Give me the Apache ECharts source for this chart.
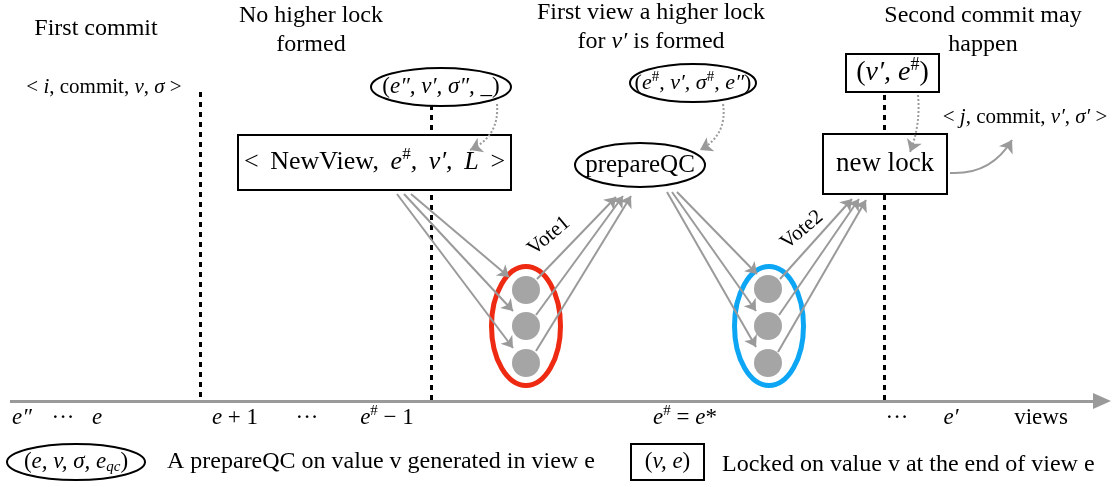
<!DOCTYPE html>
<html><head><meta charset="utf-8">
<script src="https://cdn.jsdelivr.net/npm/echarts/dist/echarts.min.js"></script>
<style>html,body{margin:0;padding:0;background:#fff}#c{width:1119px;height:487px}</style>
</head><body><div id="c"></div>
<script>
const FONT = '"Liberation Serif","Times New Roman",serif';
const T = '\u2009'; // thin space

// ---- content ----
const viewLabels = ['{i|e″}', '{r|···}', '{i|e}', '{i|e}{r| + 1}', '{r|···}', '{i|e}{s|#}{r| − 1}',
                    '{i|e}{s|#}{r| = }{i|e}{r|*}', '{r|···}', '{i|e′}', '{r|views}'];
const viewLabelX = [22, 63, 97, 235, 307, 387, 685, 897, 951, 1041];

const phaseTitles = ['{t|First commit}', '{t|No higher lock}', '{t|formed}', '{t|First view a higher lock}',
                     '{t|for }{ti|v′}{t| is formed}', '{t|Second commit may}', '{t|happen}'];
const phaseTitlePos = [[96,29],[311,16],[311,45],[651,13],[651,42],[983,16],[983,45]];

const commitMsgs = ['{c|< }{ci|i}{c|, commit, }{ci|v}{c|, }{ci|σ}{c| >}',
                    '{c|< }{ci|j}{c|, commit, }{ci|v′}{c|, }{ci|σ′}{c| >}'];
const commitMsgPos = [[104,87],[1025,117]];

const voteLabels = ['{v|Vote1}', '{v|Vote2}'];
const voteLabelPos = [[549,236],[802,230]];

const legendTexts = ['{L|A prepareQC on value v generated in view e}', '{L|Locked on value v at the end of view e}'];
const legendTextPos = [[167,462],[722,465]];

// QC ellipses
const qcLabels = ['{r|(}{i|e″, v′, σ″, _}{r|)}',
                  '{q|(}{qi|e}{qs|#}{qi|, v′, σ}{qs|#}{qi|, e″}{q|)}',
                  '{b1|prepareQC}',
                  '{r|(}{i|e, v, σ, e}{sub|qc}{r|)}'];
const qcPos = [[441,87],[693,83],[640,165],[76,462]];
const qcSize = [[142,40],[128,40],[132,46],[140,38]];

// lock / message boxes
const boxLabels = ['{m|<'+T+' NewView,'+T+' }{mi|e}{ms|#}{mi|,'+T+' v′,'+T+' L'+T+' }{m|>}',
                   '{m2|(}{mi2|v′, e}{ms2|#}{m2|)}',
                   '{b2|new lock}',
                   '{r|(}{i|v, e}{r|)}'];
const boxPos = [[374.5,162.5],[892.5,73],[885,164],[667.5,462]];
const boxSize = [[275,57],[95,40],[126,62],[75,38]];

// view boundaries (dashed)
const boundaryX = [200, 431, 884];
const boundaryTop = [92, 105, 95];
const axisY = 401;

// replicas (voters)
const replicaPos = [[526,290],[526,326],[526,363],[768,289],[768,326],[768,363]];
const groupPos = [[526,326],[769,326]];
const groupSize = [[74,124],[74,124]];
const groupColors = ['#ee2a12', '#0ca6f4'];

// vote message arrows
const voteArrows = [
  [[411,194],[509,277]], [[404,194],[513,311]], [[397,194],[513,348]],
  [[537,279],[616,197]], [[536,315],[623,196]], [[536,351],[631,196]],
  [[677,192],[757,274]], [[672,192],[756,311]], [[667,192],[756,347]],
  [[780,279],[852,199]], [[779,315],[859,199]], [[778,352],[866,200]]
];
const dottedArrows = [[[497,104],[470,150]], [[723,104],[700,150]], [[918,95],[910,152]]];
const dottedCurve = [0.35, 0.35, 0.12];
const commitArrow = [[950,173],[1012,140]];

// ---- styles ----
const RICH = {
  r:{fontFamily:FONT,fontSize:23,color:'#000'},
  i:{fontFamily:FONT,fontSize:23,fontStyle:'italic',color:'#000'},
  s:{fontFamily:FONT,fontSize:15,color:'#000',padding:[0,0,13,0]},
  sub:{fontFamily:FONT,fontSize:15,fontStyle:'italic',color:'#000',padding:[11,0,0,0]},
  q:{fontFamily:FONT,fontSize:22,color:'#000'},
  qi:{fontFamily:FONT,fontSize:22,fontStyle:'italic',color:'#000'},
  qs:{fontFamily:FONT,fontSize:15,color:'#000',padding:[0,0,12,0]},
  m:{fontFamily:FONT,fontSize:26,color:'#000'},
  mi:{fontFamily:FONT,fontSize:26,fontStyle:'italic',color:'#000'},
  ms:{fontFamily:FONT,fontSize:17,color:'#000',padding:[0,0,15,0]},
  m2:{fontFamily:FONT,fontSize:28,color:'#000'},
  mi2:{fontFamily:FONT,fontSize:28,fontStyle:'italic',color:'#000'},
  ms2:{fontFamily:FONT,fontSize:18,color:'#000',padding:[0,0,16,0]},
  b1:{fontFamily:FONT,fontSize:25,color:'#000'},
  b2:{fontFamily:FONT,fontSize:27,color:'#000'},
  t:{fontFamily:FONT,fontSize:24,color:'#000'},
  ti:{fontFamily:FONT,fontSize:24,fontStyle:'italic',color:'#000'},
  c:{fontFamily:FONT,fontSize:21,color:'#000'},
  ci:{fontFamily:FONT,fontSize:21,fontStyle:'italic',color:'#000'},
  v:{fontFamily:FONT,fontSize:21,color:'#000'},
  L:{fontFamily:FONT,fontSize:24,color:'#000'}
};

// free texts
const freeTexts = [];
viewLabels.forEach((l,k)=>freeTexts.push({label:l,pos:[viewLabelX[k],418],align:'center',rot:0}));
phaseTitles.forEach((l,k)=>freeTexts.push({label:l,pos:phaseTitlePos[k],align:'center',rot:0}));
commitMsgs.forEach((l,k)=>freeTexts.push({label:l,pos:commitMsgPos[k],align:'center',rot:0}));
voteLabels.forEach((l,k)=>freeTexts.push({label:l,pos:voteLabelPos[k],align:'center',rot:40}));
legendTexts.forEach((l,k)=>freeTexts.push({label:l,pos:legendTextPos[k],align:'left',rot:0}));

// shapes: kind 0 ellipse, 1 rect
const shapes = [];
groupPos.forEach((p,k)=>shapes.push({kind:0,pos:p,size:groupSize[k],stroke:groupColors[k],lw:5,fill:'rgba(0,0,0,0)',label:'',z:0}));
qcPos.forEach((p,k)=>shapes.push({kind:0,pos:p,size:qcSize[k],stroke:'#000',lw:2,fill:'#fff',label:qcLabels[k],z:1}));
boxPos.forEach((p,k)=>shapes.push({kind:1,pos:p,size:boxSize[k],stroke:'#000',lw:2,fill:'#fff',label:boxLabels[k],z:1}));
const groupShapes = shapes.filter(s=>s.z===0);
const nodeShapes = shapes.filter(s=>s.z===1);

const chart = echarts.init(document.getElementById('c'));
const gray = '#9a9a9a';

function shapeRenderer(list){
  return function(params, api){
    const s = list[params.dataIndex];
    const c = api.coord([api.value(0),api.value(1)]);
    const w = s.size[0]-s.lw, h = s.size[1]-s.lw;
    const children = [];
    if (s.kind===0) children.push({type:'ellipse',shape:{cx:c[0],cy:c[1],rx:w/2,ry:h/2},style:{fill:s.fill,stroke:s.stroke,lineWidth:s.lw}});
    else children.push({type:'rect',shape:{x:c[0]-w/2,y:c[1]-h/2,width:w,height:h},style:{fill:s.fill,stroke:s.stroke,lineWidth:s.lw}});
    if (s.label) children.push({type:'text',x:c[0],y:c[1],style:{text:s.label,rich:RICH,fill:'#000',align:'center',verticalAlign:'middle',fontFamily:FONT,fontSize:20}});
    return {type:'group',children};
  };
}

chart.setOption({
  animation:false,
  backgroundColor:'#fff',
  grid:{left:0,right:0,top:0,bottom:0},
  xAxis:{type:'value',min:0,max:1119,show:false},
  yAxis:{type:'value',min:0,max:487,inverse:true,show:false},
  series:[
    { // view axis
      type:'lines',coordinateSystem:'cartesian2d',z:1,
      symbol:['none','triangle'],symbolSize:[0,[16,18]],
      lineStyle:{color:gray,width:3,opacity:1},
      data:[{coords:[[10,axisY],[1102,axisY]]}]
    },
    { // view boundaries
      type:'lines',coordinateSystem:'cartesian2d',z:1,
      symbol:'none',
      lineStyle:{color:'#000',width:3,type:[5,5],opacity:1},
      data:boundaryX.map((x,k)=>({coords:[[x,boundaryTop[k]],[x,axisY]]}))
    },
    { // group ellipses (red / blue)
      type:'custom',z:2,encode:{x:0,y:1},
      data:groupShapes.map(s=>s.pos),
      renderItem:shapeRenderer(groupShapes)
    },
    { // vote arrows
      type:'lines',coordinateSystem:'cartesian2d',z:3,
      symbol:['none','arrow'],symbolSize:11,
      lineStyle:{color:gray,width:2,opacity:1},
      data:voteArrows.map(c=>({coords:c}))
    },
    { // replicas
      type:'scatter',z:5,symbol:'circle',symbolSize:28,
      itemStyle:{color:'#8e8e8e'},
      data:replicaPos
    },
    { // ellipses & boxes
      type:'custom',z:6,encode:{x:0,y:1},
      data:nodeShapes.map(s=>s.pos),
      renderItem:shapeRenderer(nodeShapes)
    },
    { // dotted arrows
      type:'lines',coordinateSystem:'cartesian2d',z:8,
      symbol:['none','arrow'],symbolSize:12,
      lineStyle:{color:gray,width:2,type:[2,2],opacity:1},
      data:dottedArrows.map((c,k)=>({coords:c,lineStyle:{curveness:dottedCurve[k]}}))
    },
    { // commit arrow
      type:'lines',coordinateSystem:'cartesian2d',z:8,
      symbol:['none','arrow'],symbolSize:12,
      lineStyle:{color:gray,width:2,opacity:1,curveness:-0.3},
      data:[{coords:commitArrow}]
    },
    { // free texts
      type:'custom',z:7,
      encode:{x:0,y:1},
      data:freeTexts.map(t=>t.pos),
      renderItem:(params,api)=>{
        const t = freeTexts[params.dataIndex];
        const p = api.coord([api.value(0),api.value(1)]);
        return {type:'text',x:p[0],y:p[1],rotation:t.rot*Math.PI/180,
          style:{text:t.label,rich:RICH,fill:'#000',align:t.align,verticalAlign:'middle',fontFamily:FONT,fontSize:20}};
      }
    }
  ]
});
</script></body></html>
